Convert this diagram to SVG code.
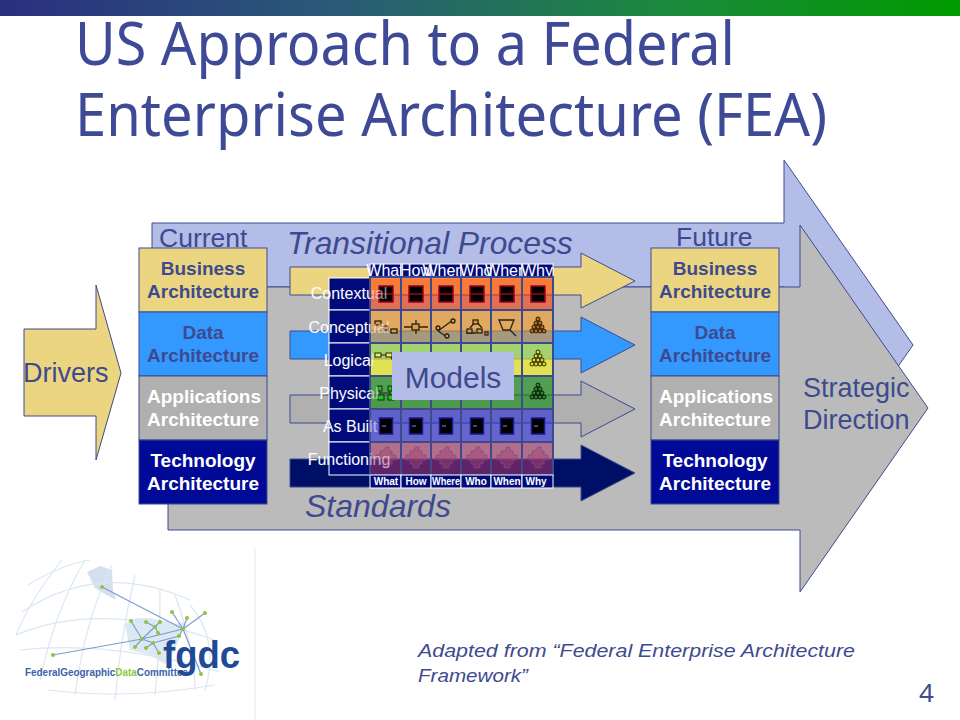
<svg xmlns="http://www.w3.org/2000/svg" width="960" height="720" viewBox="0 0 960 720">
<defs>
<linearGradient id="bar" x1="0" x2="1" y1="0" y2="0"><stop offset="0" stop-color="#2a2f80"/><stop offset="0.35" stop-color="#2a5a78"/><stop offset="0.7" stop-color="#1b8a3c"/><stop offset="1" stop-color="#009a00"/></linearGradient>
<linearGradient id="fade" gradientUnits="userSpaceOnUse" x1="300" x2="400" y1="0" y2="0"><stop offset="0.7" stop-color="#fff"/><stop offset="0.7" stop-color="#fff" stop-opacity=".55"/></linearGradient>
<g id="win"><rect x="-7" y="-8" width="14" height="16" fill="#000" stroke="#a00020" stroke-width="1.5"/><path d="M-7 0H7" stroke="#a00020" stroke-width="1.5"/></g>
<g id="door"><rect x="-6.5" y="-8" width="13" height="16" fill="#000" stroke="#1a1a90" stroke-width="1.5"/><path d="M-4 0H0" stroke="#8888dd"/></g>
<path id="dia" d="M0-11h3v4h3v4h4v5h-4v4h-3v4h-6v-4h-3v-4h-4v-5h4v-4h3z" fill="#a04070" fill-opacity=".45" stroke="#7a4a8a" stroke-opacity=".7" stroke-width="1"/>
<g id="pyr" stroke="#000" stroke-width="0.8"><circle cx="0" cy="-8" r="2"/><circle cx="-2" cy="-4" r="2"/><circle cx="2" cy="-4" r="2"/><circle cx="-4" cy="0" r="2"/><circle cx="0" cy="0" r="2"/><circle cx="4" cy="0" r="2"/><circle cx="-6" cy="4" r="2"/><circle cx="-2" cy="4" r="2"/><circle cx="2" cy="4" r="2"/><circle cx="6" cy="4" r="2"/></g>
</defs>
<style>
.a{font-family:"Liberation Sans",Arial,sans-serif}
.ink{fill:#3e4a8f}
.t{font-family:"Noto Sans","Open Sans",sans-serif;fill:#3e4a96;font-size:60px}
.box{stroke:#3e4a8f;stroke-width:1}
.bt{font-family:"Liberation Sans",Arial,sans-serif;font-weight:bold;font-size:19px;text-anchor:middle}
.arrow{stroke:#3e4a8f;stroke-width:1}
.rl{font-family:"Liberation Sans",Arial,sans-serif;font-size:16px;fill:url(#fade);text-anchor:middle}
.ch{font-family:"Liberation Sans",Arial,sans-serif;font-size:16px;fill:#fff;text-anchor:middle}
.cf{font-family:"Liberation Sans",Arial,sans-serif;font-size:10px;font-weight:bold;fill:#fff;text-anchor:middle}
.cell{fill-opacity:.56;stroke:#3e4a8f;stroke-width:2}
.g{fill:none;stroke:#dbe6f3;stroke-width:1.2}
.l{stroke:#7f9ccb;stroke-width:1.2;fill:none}
.d{fill:#8cc63f}
</style>
<rect width="960" height="720" fill="#fff"/>
<rect width="960" height="16" fill="url(#bar)"/>
<g id="title"><text class="t" x="75" y="65" textLength="660" lengthAdjust="spacingAndGlyphs">US Approach to a Federal</text><text class="t" x="75" y="136" textLength="752" lengthAdjust="spacingAndGlyphs">Enterprise Architecture (FEA)</text></g>

<g id="transition-arrow"><polygon points="152,223 784,223 784,160 913,345 784,530 784,287 152,287" fill="#b4bce8" class="arrow"/></g>
<g id="strategic-direction"><polygon points="168,287 800,287 800,225 928,408 800,592 800,530 168,530" fill="#bbbbbb" class="arrow"/>
<text class="a ink" font-size="27" x="803" y="397">Strategic</text><text class="a ink" font-size="27" x="803" y="429">Direction</text></g>

<g id="drivers"><polygon points="24,329 96,329 96,285 121,373 96,460 96,416 24,416" fill="#ecd580" class="arrow"/><text class="a ink" font-size="27" x="23" y="382">Drivers</text></g>

<g id="labels" class="a ink">
<text font-size="26.5" x="159" y="247">Current</text>
<text font-size="26.5" x="676" y="246">Future</text>
<text font-size="31.8" font-style="italic" x="287" y="254">Transitional Process</text>
<text font-size="32" font-style="italic" x="305" y="517">Standards</text>
</g>

<g id="connectors">
<polygon class="arrow" fill="#ecd580" points="290,267 581,267 581,253 635,281 581,308 581,295 290,295"/>
<polygon class="arrow" fill="#3399ff" points="290,331 581,331 581,317 635,345 581,373 581,359 290,359"/>
<polygon class="arrow" fill="#b0b0b0" points="290,395 581,395 581,381 635,409 581,437 581,423 290,423"/>
<polygon class="arrow" fill="#000f66" points="290,459 581,459 581,445 635,473 581,501 581,487 290,487"/>
</g>

<g id="current-stack">
<g id="current-business"><rect class="box" x="139" y="248" width="128" height="64" fill="#ecd580"/><text class="bt ink" x="203" y="275">Business</text><text class="bt ink" x="203" y="298">Architecture</text></g>
<g id="current-data"><rect class="box" x="139" y="312" width="128" height="64" fill="#3399ff"/><text class="bt ink" x="203" y="339">Data</text><text class="bt ink" x="203" y="362">Architecture</text></g>
<g id="current-applications"><rect class="box" x="139" y="376" width="128" height="64" fill="#b0b0b0"/><text class="bt" fill="#fff" x="204" y="403">Applications</text><text class="bt" fill="#fff" x="203" y="426">Architecture</text></g>
<g id="current-technology"><rect class="box" x="139" y="440" width="128" height="64" fill="#000a96"/><text class="bt" fill="#fff" x="203" y="467">Technology</text><text class="bt" fill="#fff" x="203" y="490">Architecture</text></g>
</g>
<g id="future-stack">
<g id="future-business"><rect class="box" x="651" y="248" width="128" height="64" fill="#ecd580"/><text class="bt ink" x="715" y="275">Business</text><text class="bt ink" x="715" y="298">Architecture</text></g>
<g id="future-data"><rect class="box" x="651" y="312" width="128" height="64" fill="#3399ff"/><text class="bt ink" x="715" y="339">Data</text><text class="bt ink" x="715" y="362">Architecture</text></g>
<g id="future-applications"><rect class="box" x="651" y="376" width="128" height="64" fill="#b0b0b0"/><text class="bt" fill="#fff" x="716" y="403">Applications</text><text class="bt" fill="#fff" x="715" y="426">Architecture</text></g>
<g id="future-technology"><rect class="box" x="651" y="440" width="128" height="64" fill="#000a96"/><text class="bt" fill="#fff" x="715" y="467">Technology</text><text class="bt" fill="#fff" x="715" y="490">Architecture</text></g>
</g>

<g id="zachman-rows" stroke="#fff" stroke-width="1">
<rect x="329" y="278" width="41" height="32" fill="#000a7a"/><rect x="329" y="310" width="41" height="33" fill="#000a7a"/><rect x="329" y="343" width="41" height="33" fill="#000a7a"/><rect x="329" y="376" width="41" height="33" fill="#000a7a"/><rect x="329" y="409" width="41" height="33" fill="#000a7a"/><rect x="329" y="442" width="41" height="33" fill="#000a7a"/>
</g>
<g id="zachman-head" stroke="#fff" stroke-width="1">
<rect x="370" y="264" width="31" height="14" fill="#000a7a"/><text class="ch" stroke="none" x="385" y="276">What</text>
<rect x="401" y="264" width="30" height="14" fill="#000a7a"/><text class="ch" stroke="none" x="416" y="276">How</text>
<rect x="431" y="264" width="30" height="14" fill="#000a7a"/><text class="ch" stroke="none" x="446" y="276">Where</text>
<rect x="461" y="264" width="30" height="14" fill="#000a7a"/><text class="ch" stroke="none" x="476" y="276">Who</text>
<rect x="491" y="264" width="31" height="14" fill="#000a7a"/><text class="ch" stroke="none" x="506" y="276">When</text>
<rect x="522" y="264" width="31" height="14" fill="#000a7a"/><text class="ch" stroke="none" x="537" y="276">Why</text>
</g>
<g id="zachman-grid">
<g fill="#ff3300"><rect class="cell" x="370" y="277" width="31" height="33"/><rect class="cell" x="401" y="277" width="30" height="33"/><rect class="cell" x="431" y="277" width="30" height="33"/><rect class="cell" x="461" y="277" width="30" height="33"/><rect class="cell" x="491" y="277" width="31" height="33"/><rect class="cell" x="522" y="277" width="31" height="33"/></g>
<g fill="#ff9919"><rect class="cell" x="370" y="310" width="31" height="33"/><rect class="cell" x="401" y="310" width="30" height="33"/><rect class="cell" x="431" y="310" width="30" height="33"/><rect class="cell" x="461" y="310" width="30" height="33"/><rect class="cell" x="491" y="310" width="31" height="33"/><rect class="cell" x="522" y="310" width="31" height="33"/></g>
<g fill="#ffff00"><rect class="cell" x="370" y="343" width="31" height="33"/><rect class="cell" x="401" y="343" width="30" height="33"/><rect class="cell" x="431" y="343" width="30" height="33"/><rect class="cell" x="461" y="343" width="30" height="33"/><rect class="cell" x="491" y="343" width="31" height="33"/><rect class="cell" x="522" y="343" width="31" height="33"/></g>
<g fill="#008800"><rect class="cell" x="370" y="376" width="31" height="33"/><rect class="cell" x="401" y="376" width="30" height="33"/><rect class="cell" x="431" y="376" width="30" height="33"/><rect class="cell" x="461" y="376" width="30" height="33"/><rect class="cell" x="491" y="376" width="31" height="33"/><rect class="cell" x="522" y="376" width="31" height="33"/></g>
<g fill="#2222dd"><rect class="cell" x="370" y="409" width="31" height="33"/><rect class="cell" x="401" y="409" width="30" height="33"/><rect class="cell" x="431" y="409" width="30" height="33"/><rect class="cell" x="461" y="409" width="30" height="33"/><rect class="cell" x="491" y="409" width="31" height="33"/><rect class="cell" x="522" y="409" width="31" height="33"/></g>
<g fill="#aa3366"><rect class="cell" x="370" y="442" width="31" height="33"/><rect class="cell" x="401" y="442" width="30" height="33"/><rect class="cell" x="431" y="442" width="30" height="33"/><rect class="cell" x="461" y="442" width="30" height="33"/><rect class="cell" x="491" y="442" width="31" height="33"/><rect class="cell" x="522" y="442" width="31" height="33"/></g>
<use href="#win" x="386" y="294"/><use href="#win" x="416" y="294"/><use href="#win" x="446" y="294"/><use href="#win" x="477" y="294"/><use href="#win" x="507" y="294"/><use href="#win" x="538" y="294"/>
<use href="#door" x="386" y="426"/><use href="#door" x="416" y="426"/><use href="#door" x="446" y="426"/><use href="#door" x="477" y="426"/><use href="#door" x="507" y="426"/><use href="#door" x="538" y="426"/>
<use href="#dia" x="386" y="458"/><use href="#dia" x="416" y="458"/><use href="#dia" x="446" y="458"/><use href="#dia" x="477" y="458"/><use href="#dia" x="507" y="458"/><use href="#dia" x="538" y="458"/>
<g stroke="#222" stroke-width="1.3" fill="#e89a30">
<rect x="375" y="321" width="6" height="4"/><rect x="391" y="329" width="6" height="4"/><rect x="384" y="326" width="4" height="4"/>
<path d="M404 327H428M416 320V334" fill="none"/><rect x="412" y="324" width="7" height="6"/>
<path d="M438 331L453 320M438 331L447 337" fill="none"/><circle cx="438" cy="328" r="2"/><circle cx="453" cy="321" r="2"/><circle cx="447" cy="336" r="2"/>
<path d="M470 328L476 321L482 328M466 333H476" fill="none"/><rect x="473" y="320" width="5" height="4"/><rect x="467" y="329" width="5" height="4"/><rect x="477" y="329" width="5" height="4"/><rect x="485" y="332" width="3" height="3"/>
<path d="M499 320H514L510 330H503ZM510 330L516 336" fill="none"/>
</g>
<use href="#pyr" x="538" y="327" fill="#b87020"/>
<use href="#pyr" x="538" y="360" fill="#dddd30"/>
<use href="#pyr" x="538" y="393" fill="#2e8a2e"/>
<g fill="#f0f040" stroke="#222"><rect x="375" y="353" width="6" height="4"/><rect x="386" y="353" width="6" height="4"/><path d="M381 355H386M391 357L394 364" fill="none"/></g>
<g fill="#10d010" stroke="#222"><rect x="378" y="386" width="4" height="5"/><rect x="388" y="386" width="4" height="5"/><rect x="378" y="395" width="6" height="5"/><rect x="388" y="395" width="6" height="5"/><path d="M380 391V395M390 391V395M380 393H390" fill="none"/></g>
</g>
<g id="zachman-row-labels">
<text class="rl" x="349" y="299">Contextual</text><text class="rl" x="349" y="333">Conceptual</text><text class="rl" x="349" y="366">Logical</text><text class="rl" x="349" y="399">Physical</text><text class="rl" x="350" y="432">As Built</text><text class="rl" x="349" y="465">Functioning</text>
</g>
<g id="zachman-foot" stroke="#fff" stroke-width="1">
<rect x="370" y="475" width="31" height="13" fill="#000a7a"/><rect x="401" y="475" width="30" height="13" fill="#000a7a"/><rect x="431" y="475" width="30" height="13" fill="#000a7a"/><rect x="461" y="475" width="30" height="13" fill="#000a7a"/><rect x="491" y="475" width="31" height="13" fill="#000a7a"/><rect x="522" y="475" width="31" height="13" fill="#000a7a"/>
<text class="cf" stroke="none" x="386" y="485">What</text><text class="cf" stroke="none" x="416" y="485">How</text><text class="cf" stroke="none" x="446" y="485" textLength="28" lengthAdjust="spacingAndGlyphs">Where</text><text class="cf" stroke="none" x="476" y="485">Who</text><text class="cf" stroke="none" x="507" y="485">When</text><text class="cf" stroke="none" x="536" y="485">Why</text>
</g>
<g id="models"><rect x="392" y="352" width="122" height="48" fill="#b4bce8"/><text class="a ink" font-size="30" x="453" y="388" text-anchor="middle">Models</text></g>

<g id="caption" class="a ink" font-size="19" font-style="italic"><text x="418" y="657" textLength="437" lengthAdjust="spacingAndGlyphs">Adapted from “Federal Enterprise Architecture</text><text x="418" y="682" textLength="110" lengthAdjust="spacingAndGlyphs">Framework”</text></g>
<text id="page" x="919" y="702" font-family="Noto Sans,sans-serif" font-size="26" fill="#3e4a8f">4</text>

<g id="logo">
<path d="M255 548V720" stroke="#e8e8e8" fill="none"/>
<path d="M125 625Q130 616 150 618L178 624L185 622L175 650L165 664L150 655L130 650Z" fill="#dce8f4"/>
<path d="M87 572L100 566L112 570L113 590L116 600L103 593L95 588Z" fill="#d4e0ee"/>
<g class="g">
<path d="M28 585Q60 565 90 560"/><path d="M22 612Q100 560 190 600"/><path d="M16 635Q100 600 215 640"/><path d="M20 650Q110 640 220 672"/><path d="M48 690Q130 700 215 685"/>
<path d="M62 560Q30 600 16 635"/><path d="M85 560Q55 610 40 680"/><path d="M112 565Q85 620 75 695"/><path d="M135 575Q120 640 115 700"/><path d="M160 590Q160 650 155 695"/><path d="M175 595Q195 650 195 690"/><path d="M190 605Q220 640 205 690"/>
</g>
<g class="l"><path d="M102 587L183 629M142 639L53 655M142 639L183 629L205 613M183 629L201 674M183 629L172 612M183 629L187 618M131 621L142 639L160 622M135 647L142 639M146 648L153 643L142 639M153 643L159 653M153 643L179 636L183 629M146 622L155 627L158 633"/></g>
<g class="d"><circle cx="102" cy="587" r="2"/><circle cx="183" cy="629" r="2"/><circle cx="53" cy="655" r="2"/><circle cx="131" cy="621" r="2"/><circle cx="146" cy="622" r="2"/><circle cx="160" cy="622" r="2"/><circle cx="155" cy="627" r="2"/><circle cx="158" cy="633" r="2"/><circle cx="172" cy="612" r="2"/><circle cx="187" cy="618" r="2"/><circle cx="205" cy="613" r="2"/><circle cx="179" cy="636" r="2"/><circle cx="142" cy="639" r="2"/><circle cx="153" cy="643" r="2"/><circle cx="135" cy="647" r="2"/><circle cx="146" cy="648" r="2"/><circle cx="159" cy="653" r="2"/><circle cx="201" cy="674" r="2"/></g>
<text x="25" y="676" font-family="Liberation Sans,sans-serif" font-weight="bold" font-size="10.5" fill="#3a63a8" textLength="163" lengthAdjust="spacingAndGlyphs">FederalGeographic<tspan fill="#8cc63f">Data</tspan>Committee</text>
<text x="163" y="668" font-family="Liberation Sans,sans-serif" font-weight="bold" font-size="38" fill="#1f4a96" textLength="77" lengthAdjust="spacingAndGlyphs">fgdc</text>
</g>
</svg>
